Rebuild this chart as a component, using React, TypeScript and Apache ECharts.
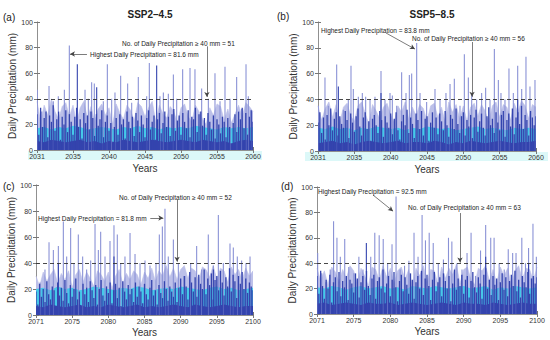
import { useEffect, useRef } from "react";
import * as echarts from "echarts";

const FONT = "'Liberation Sans', Arial, Helvetica, sans-serif";

// ---------- tick labels ----------
const topYearTicks = ["2031", "2035", "2040", "2045", "2050", "2055", "2060"];
const bottomYearTicks = ["2071", "2075", "2080", "2085", "2090", "2095", "2100"];
const panelTitles = ["SSP2\u20134.5", "SSP5\u20138.5"];
const panelLetters = ["(a)", "(b)", "(c)", "(d)"];
const threshold = 40;
const countsAbove40 = [51, 56, 52, 63];
const maxPrecip = [81.6, 83.8, 81.8, 92.5];

// ---------- panel (a) SSP2-4.5, 2031-2060 ----------
// dense dark strokes, 4 samples per year (years from axis start)
const aBase = [
  28, 12, 33, 18, 25, 30, 10, 27, 22, 35, 15, 24, 30, 8, 26, 20, 31, 14, 28, 22,
  12, 26, 33, 18, 24, 9, 29, 21, 27, 16, 30, 25, 11, 28, 19, 24, 31, 10, 22, 27,
  15, 21, 6, 18, 25, 12, 28, 20, 24, 9, 30, 22, 17, 26, 11, 29, 23, 14, 27, 20,
  10, 25, 31, 16, 22, 27, 8, 24, 29, 13, 21, 30, 18, 26, 11, 28, 32, 15, 23, 27,
  12, 29, 22, 17, 31, 10, 26, 24, 33, 14, 28, 30, 19, 25, 12, 29, 22, 16, 27, 9,
  24, 20, 13, 26, 22, 10, 25, 18, 5, 21, 28, 14, 30, 24, 33, 17, 29, 12, 26, 31,
  22,
];
// light envelope, 2 samples per year
const aEnv = [
  38, 22, 35, 27, 40, 30, 24, 34, 37, 26, 35, 21, 33, 38, 25, 34, 22, 32, 36, 27,
  33, 20, 36, 29, 24, 35, 31, 23, 37, 34, 26, 33, 38, 22, 35, 28, 25, 34, 30, 21,
  33, 36, 26, 22, 35, 30, 24, 20, 33, 27, 36, 34, 23, 32, 21, 28, 35, 26, 37, 34, 30,
];
// cyan mid band and dark floor, 1 sample per year
const aMid = [17, 18, 16, 18, 17, 19, 18, 16, 17, 18, 17, 16, 18, 17, 19, 17, 18, 16, 18, 17, 18, 17, 19, 18, 17, 16, 18, 17, 18, 17, 18];
const aFloor = [7, 6, 8, 7, 6, 7, 8, 6, 7, 5, 7, 6, 8, 7, 6, 7, 8, 7, 6, 7, 8, 7, 6, 8, 7, 6, 7, 5, 7, 8, 7];
const aSpikeAt = [0.05, 0.65, 1.67, 2.27, 2.96, 3.8, 4.49, 6.67, 7.13, 7.59, 7.96, 9.21, 9.77, 10.37, 10.83, 11.62, 12.59, 13.15, 14.07, 15.23, 15.6, 17.08, 17.55, 18.24, 18.94, 19.4, 20.23, 21.25, 21.94, 22.87, 23.8, 24.72, 25.42, 26.11, 26.81, 27.73, 28.43, 29.03, 29.35, 29.81];
const aSpikeMm = [47, 30, 50, 38, 42, 47, 81.6, 47, 40, 53, 52, 38, 67, 40, 45, 58, 52, 37, 57, 42, 68, 42, 45, 44, 59, 40, 63, 64, 63, 48, 40, 60, 38, 65, 40, 57, 32, 67, 42, 30];
const aDarkAt = [5.6, 8.29, 16.62];
const aDarkMm = [67, 49, 66];

// ---------- panel (b) SSP5-8.5, 2031-2060 ----------
const bBase = [
  22, 30, 14, 26, 9, 28, 20, 33, 16, 25, 30, 12, 27, 21, 18, 31, 24, 10, 29, 22,
  15, 27, 33, 19, 12, 26, 30, 17, 23, 8, 25, 28, 20, 14, 31, 24, 11, 27, 22, 18,
  29, 13, 25, 30, 16, 9, 23, 28, 20, 32, 14, 26, 21, 10, 29, 24, 17, 31, 12, 25,
  27, 8, 22, 30, 18, 26, 13, 29, 23, 16, 31, 20, 11, 28, 25, 17, 33, 21, 14, 27,
  30, 12, 24, 19, 28, 10, 26, 32, 15, 23, 29, 18, 12, 27, 34, 20, 25, 14, 30, 22,
  16, 28, 31, 11, 24, 29, 19, 33, 13, 26, 30, 21, 35, 17, 28, 24, 12, 31, 26, 20,
  27,
];
const bEnv = [
  35, 24, 33, 38, 26, 36, 22, 34, 37, 27, 23, 35, 38, 29, 21, 36, 31, 25, 34, 37,
  28, 22, 35, 30, 38, 24, 34, 27, 36, 33, 23, 35, 37, 26, 34, 22, 38, 30, 36, 25,
  35, 23, 34, 37, 27, 36, 31, 22, 35, 38, 26, 36, 34, 24, 37, 30, 39, 35, 25, 36, 34,
];
const bMid = [18, 17, 19, 17, 18, 16, 18, 17, 19, 18, 17, 18, 16, 18, 17, 19, 18, 17, 18, 16, 17, 18, 19, 17, 18, 17, 16, 18, 17, 18, 17];
const bFloor = [6, 7, 8, 6, 7, 5, 7, 8, 7, 6, 7, 8, 6, 7, 7, 6, 8, 7, 5, 7, 6, 8, 7, 6, 7, 8, 7, 6, 7, 7, 8];
const bSpikeAt = [0.05, 0.96, 1.42, 2.57, 3.49, 4.17, 4.54, 4.86, 5.55, 6.1, 6.56, 7.16, 7.84, 8.67, 9.22, 9.91, 10.23, 10.83, 11.51, 12.11, 12.57, 12.89, 13.58, 14.04, 14.95, 16.1, 16.79, 17.61, 18.17, 18.76, 19.54, 20.14, 20.69, 21.15, 21.83, 22.52, 23.07, 23.67, 24.27, 24.82, 25.18, 25.73, 26.28, 26.88, 27.48, 28.03, 28.62, 29.17, 29.86];
const bSpikeMm = [35, 57, 35, 67, 32, 40, 66, 48, 42, 45, 42, 40, 42, 62, 40, 45, 43, 35, 61, 45, 59, 60, 83.8, 45, 38, 48, 40, 45, 52, 56, 35, 75, 57, 45, 40, 45, 49, 40, 79, 55, 45, 40, 64, 45, 66, 48, 73, 50, 55];
const bDarkAt = [2.8, 8.67, 27.48];
const bDarkMm = [50, 45, 40];

// ---------- panel (c) SSP2-4.5, 2071-2100 ----------
const cBase = [
  18, 8, 24, 14, 20, 10, 26, 16, 12, 22, 19, 7, 25, 15, 21, 11, 27, 17, 9, 23,
  14, 20, 28, 12, 18, 6, 24, 16, 21, 10, 26, 19, 13, 23, 8, 20, 27, 15, 11, 22,
  17, 25, 9, 19, 24, 13, 21, 7, 26, 18, 12, 23, 16, 20, 10, 25, 14, 22, 18, 9,
  24, 16, 12, 21, 27, 15, 19, 8, 23, 17, 13, 26, 20, 11, 22, 18, 14, 25, 10, 21,
  28, 16, 30, 22, 12, 33, 25, 18, 29, 14, 31, 24, 20, 35, 16, 28, 23, 32, 12, 27,
  30, 19, 34, 25, 15, 29, 22, 36, 18, 31, 26, 13, 30, 24, 33, 20, 28, 17, 25, 22,
  19,
];
const cEnv = [
  30, 22, 33, 26, 31, 35, 24, 32, 27, 34, 21, 31, 35, 25, 33, 28, 22, 34, 31, 26,
  33, 20, 30, 35, 24, 32, 27, 34, 31, 23, 33, 28, 36, 26, 34, 30, 38, 29, 36, 27,
  35, 38, 28, 36, 34, 26, 37, 35, 29, 38, 27, 36, 34, 25, 37, 31, 35, 27, 36, 30, 34,
];
const cMid = [20, 21, 19, 22, 20, 21, 19, 20, 22, 21, 20, 19, 21, 20, 22, 21, 19, 20, 21, 20, 22, 21, 20, 19, 21, 22, 20, 21, 19, 20, 21];
const cFloor = [7, 6, 8, 7, 6, 7, 8, 6, 7, 6, 8, 7, 6, 7, 8, 6, 7, 6, 7, 8, 7, 6, 8, 7, 6, 7, 8, 7, 6, 7, 7];
const cSpikeAt = [0.55, 1.24, 1.8, 2.4, 3.09, 3.78, 4.24, 4.79, 5.25, 5.85, 6.45, 7.0, 7.56, 8.16, 8.62, 8.94, 9.54, 10.23, 10.78, 11.24, 11.71, 12.3, 13.0, 13.69, 14.38, 15.07, 15.76, 16.59, 17.05, 17.47, 17.83, 18.29, 18.99, 19.68, 20.6, 21.38, 22.21, 22.9, 23.82, 24.52, 25.21, 25.9, 26.82, 27.28, 27.83, 28.43, 29.03, 29.59];
const cSpikeMm = [25, 35, 56, 50, 53, 72, 45, 67, 40, 62, 45, 35, 42, 70, 50, 64, 45, 57, 69, 62, 40, 45, 63, 47, 40, 42, 38, 40, 62, 68, 81.8, 45, 58, 40, 30, 40, 53, 35, 62, 38, 77, 40, 55, 52, 45, 42, 40, 45];
const cDarkAt = [3.09, 10.78, 24.52];
const cDarkMm = [40, 45, 35];

// ---------- panel (d) SSP5-8.5, 2071-2100 ----------
const dBase = [
  30, 16, 34, 22, 12, 27, 20, 31, 9, 25, 29, 18, 33, 14, 26, 21, 30, 11, 27, 24,
  17, 32, 28, 13, 25, 30, 19, 34, 22, 15, 28, 31, 12, 26, 29, 20, 35, 17, 24, 30,
  14, 27, 33, 21, 10, 26, 31, 18, 29, 23, 16, 32, 27, 12, 25, 30, 20, 34, 15, 28,
  31, 22, 11, 27, 33, 18, 25, 29, 14, 32, 26, 20, 30, 10, 24, 35, 19, 28, 22, 31,
  16, 27, 30, 13, 26, 33, 21, 17, 29, 24, 12, 31, 36, 20, 27, 15, 30, 23, 28, 11,
  25, 32, 19, 29, 14, 26, 31, 22, 34, 18, 27, 13, 30, 25, 21, 33, 16, 28, 30, 24,
  29,
];
const dEnv = [
  36, 26, 34, 23, 37, 33, 25, 35, 28, 38, 34, 24, 36, 30, 22, 37, 35, 26, 38, 29,
  36, 24, 34, 37, 27, 35, 22, 36, 30, 38, 25, 35, 34, 23, 37, 28, 36, 31, 39, 24,
  35, 37, 27, 23, 36, 34, 38, 26, 35, 24, 37, 30, 36, 22, 34, 38, 27, 36, 35, 26, 37,
];
const dMid = [21, 20, 22, 21, 19, 21, 22, 20, 21, 22, 20, 21, 19, 22, 21, 20, 22, 21, 20, 21, 22, 20, 21, 22, 19, 21, 20, 22, 21, 20, 21];
const dFloor = [8, 9, 7, 8, 9, 8, 7, 9, 8, 8, 9, 7, 8, 9, 8, 7, 8, 9, 8, 7, 9, 8, 8, 7, 9, 8, 7, 8, 9, 8, 8];
const dSpikeAt = [0.09, 0.65, 1.2, 1.8, 2.26, 2.72, 3.18, 3.78, 4.33, 5.02, 5.71, 6.27, 7.33, 7.88, 8.48, 9.03, 9.63, 10.23, 10.78, 11.34, 11.94, 12.53, 13.23, 13.78, 14.33, 14.79, 15.3, 15.85, 16.54, 17.24, 17.93, 18.39, 19.08, 19.77, 20.46, 21.01, 21.61, 22.3, 23.0, 23.69, 24.15, 24.84, 25.53, 26.08, 26.68, 27.14, 27.93, 28.43, 28.85, 29.45, 29.91];
const dSpikeMm = [48, 32, 25, 35, 73, 60, 45, 59, 37, 32, 45, 35, 45, 64, 62, 59, 40, 55, 92.5, 35, 38, 42, 64, 45, 78, 58, 64, 56, 40, 43, 60, 57, 40, 35, 48, 64, 30, 50, 70, 60, 60, 40, 35, 51, 48, 48, 60, 40, 52, 71, 45];
const dDarkAt = [6.73, 23.0, 28.85];
const dDarkMm = [56, 45, 40];

// ---------- layout / annotation geometry ----------
const grids = [
  { left: 37, top: 22, width: 216, height: 128 },
  { left: 318, top: 22, width: 218, height: 129 },
  { left: 36, top: 185, width: 217, height: 130 },
  { left: 317, top: 187, width: 220, height: 127 },
];

type Panel = {
  base: number[]; env: number[]; mid: number[]; floor: number[];
  spikeAt: number[]; spikeMm: number[]; darkAt: number[]; darkMm: number[];
  ticks: string[];
  maxArrow: number[][]; countArrow: number[][];
  maxText: number[]; countText: number[];
  letter: number[]; yName: number; xNameGap: number;
};

const panels: Panel[] = [
  {
    base: aBase, env: aEnv, mid: aMid, floor: aFloor, spikeAt: aSpikeAt, spikeMm: aSpikeMm, darkAt: aDarkAt, darkMm: aDarkMm,
    ticks: topYearTicks,
    maxArrow: [[6.94, 75], [4.58, 75]], countArrow: [[23.6, 81], [23.6, 41.5]],
    maxText: [90, 54], countText: [122, 43], letter: [3, 17], yName: 17, xNameGap: 13,
  },
  {
    base: bBase, env: bEnv, mid: bMid, floor: bFloor, spikeAt: bSpikeAt, spikeMm: bSpikeMm, darkAt: bDarkAt, darkMm: bDarkMm,
    ticks: topYearTicks,
    maxArrow: [[9.35, 91.5], [13.34, 79]], countArrow: [[21.2, 84.5], [21.2, 42]],
    maxText: [321, 30], countText: [412, 38], letter: [277, 16], yName: 17, xNameGap: 13,
  },
  {
    base: cBase, env: cEnv, mid: cMid, floor: cFloor, spikeAt: cSpikeAt, spikeMm: cSpikeMm, darkAt: cDarkAt, darkMm: cDarkMm,
    ticks: bottomYearTicks,
    maxArrow: [[15.8, 74.6], [17.6, 74.6]], countArrow: [[19.5, 88.5], [19.5, 41]],
    maxText: [38, 218], countText: [119, 197], letter: [3, 186], yName: 17, xNameGap: 12,
  },
  {
    base: dBase, env: dEnv, mid: dMid, floor: dFloor, spikeAt: dSpikeAt, spikeMm: dSpikeMm, darkAt: dDarkAt, darkMm: dDarkMm,
    ticks: bottomYearTicks,
    maxArrow: [[7.64, 93.7], [10.37, 81]], countArrow: [[19.5, 79.5], [19.5, 40.5]],
    maxText: [318, 191], countText: [408, 207], letter: [281, 186], yName: 18, xNameGap: 12,
  },
];

const DARK = "#3444ae";
const LAV = "#bcc0e9";
const LAV_BAR = "#8a92d6";
const CYAN = "#45c9e9";

// thin vertical stroke from 0 to value, positioned through the axes' scales
function strokeSeries(i: number, name: string, data: number[][], color: string, w: number, z: number, extra: any = {}) {
  return {
    type: "custom", name, xAxisIndex: i, yAxisIndex: i, silent: true, clip: true, z,
    encode: { x: 0, y: 1 },
    data,
    renderItem: (_params: any, api: any) => {
      const x = api.value(0);
      const v = api.value(1);
      const top = api.coord([x, v]);
      const bot = api.coord([x, 0]);
      return {
        type: "rect",
        shape: { x: top[0] - w / 2, y: top[1], width: w, height: bot[1] - top[1] },
        style: { fill: color },
      };
    },
    ...extra,
  };
}

function buildOption() {
  const xAxis: any[] = [];
  const yAxis: any[] = [];
  const series: any[] = [];
  const graphic: any[] = [];

  // cyan artefact strips behind the upper panels' tick labels
  graphic.push({ type: "rect", z: -10, shape: { x: 28, y: 151, width: 234, height: 9 }, style: { fill: "#dcf8f8" } });
  graphic.push({ type: "rect", z: -10, shape: { x: 305, y: 152, width: 243, height: 9 }, style: { fill: "#dcf8f8" } });

  panels.forEach((p, i) => {
    xAxis.push({
      type: "value", gridIndex: i, min: 0, max: 30, interval: 5,
      axisLine: { show: true, lineStyle: { color: "#8c8c8c", width: 0.8 } },
      axisTick: { show: true, inside: true, length: 3, lineStyle: { color: "#777" } },
      splitLine: { show: false },
      axisLabel: {
        fontSize: 7, color: "#333", fontFamily: FONT, margin: 3,
        formatter: (v: number) => p.ticks[Math.round(v / 5)] ?? "",
      },
      name: "Years", nameLocation: "middle", nameGap: p.xNameGap,
      nameTextStyle: { fontSize: 10, color: "#333", fontFamily: FONT },
    });
    yAxis.push({
      type: "value", gridIndex: i, min: 0, max: 100, interval: 20,
      axisLine: { show: true, lineStyle: { color: "#8c8c8c", width: 0.8 } },
      axisTick: { show: true, inside: true, length: 3, lineStyle: { color: "#777" } },
      splitLine: { show: false },
      axisLabel: { fontSize: 7, color: "#333", fontFamily: FONT, margin: 4 },
      name: "Daily Precipitation (mm)", nameLocation: "middle", nameGap: p.yName,
      nameTextStyle: { fontSize: 10, color: "#333", fontFamily: FONT },
    });
  });
  // mirrored box axes (top / right) with inside ticks
  panels.forEach((_p, i) => {
    xAxis.push({
      type: "value", gridIndex: i, min: 0, max: 30, interval: 5, position: "top",
      axisLine: { show: true, lineStyle: { color: "#8c8c8c", width: 0.8 } },
      axisTick: { show: true, inside: true, length: 3, lineStyle: { color: "#777" } },
      axisLabel: { show: false }, splitLine: { show: false },
    });
    yAxis.push({
      type: "value", gridIndex: i, min: 0, max: 100, interval: 20, position: "right",
      axisLine: { show: true, lineStyle: { color: "#8c8c8c", width: 0.8 } },
      axisTick: { show: true, inside: true, length: 3, lineStyle: { color: "#777" } },
      axisLabel: { show: false }, splitLine: { show: false },
    });
  });

  panels.forEach((p, i) => {
    const common = { xAxisIndex: i, yAxisIndex: i, silent: true };
    series.push({
      ...common, type: "line", name: `env${i}`, symbol: "none", z: 1,
      data: p.env.map((v, k) => [k / 2, v]),
      lineStyle: { width: 0.6, color: LAV }, areaStyle: { color: LAV, opacity: 1 },
    });
    series.push({
      ...common, type: "line", name: `mid${i}`, symbol: "none", z: 1,
      data: p.mid.map((v, k) => [k, v]),
      lineStyle: { width: 0 }, areaStyle: { color: CYAN, opacity: 1 },
    });
    series.push({
      ...common, type: "line", name: `floor${i}`, symbol: "none", z: 1,
      data: p.floor.map((v, k) => [k, v]),
      lineStyle: { width: 0 }, areaStyle: { color: DARK, opacity: 1 },
    });
    series.push(strokeSeries(i, `spikes${i}`, p.spikeAt.map((t, k) => [t, p.spikeMm[k]]), LAV_BAR, 1.1, 2));
    series.push(strokeSeries(i, `base${i}`, p.base.map((v, k) => [k / 4, v]), DARK, 1.3, 2));
    series.push(strokeSeries(i, `dark${i}`, p.darkAt.map((t, k) => [t, p.darkMm[k]]), DARK, 1.1, 3, {
      markLine: {
        silent: true, symbol: ["none", "none"], label: { show: false }, animation: false,
        data: [
          { yAxis: threshold, lineStyle: { type: [4, 3], color: "#333", width: 0.9 } },
          [
            { coord: p.maxArrow[0], symbol: "none", lineStyle: { type: "solid", color: "#444", width: 0.7 } },
            { coord: p.maxArrow[1], symbol: "arrow", symbolSize: [4, 5] },
          ],
          [
            { coord: p.countArrow[0], symbol: "none", lineStyle: { type: "solid", color: "#444", width: 0.7 } },
            { coord: p.countArrow[1], symbol: "arrow", symbolSize: [4, 5] },
          ],
        ],
      },
    }));

    graphic.push({
      type: "text", x: p.maxText[0], y: p.maxText[1], z: 100,
      style: { text: `Highest Daily Precipitation = ${maxPrecip[i]} mm`, fontSize: 6.5, fill: "#222", fontFamily: FONT, verticalAlign: "middle" },
    });
    graphic.push({
      type: "text", x: p.countText[0], y: p.countText[1], z: 100,
      style: { text: `No. of Daily Precipitation \u2265 ${threshold} mm = ${countsAbove40[i]}`, fontSize: 6.5, fill: "#222", fontFamily: FONT, verticalAlign: "middle" },
    });
    graphic.push({
      type: "text", x: p.letter[0], y: p.letter[1], z: 100,
      style: { text: panelLetters[i], fontSize: 10, fill: "#222", fontFamily: FONT, verticalAlign: "middle" },
    });
  });

  return {
    animation: false,
    backgroundColor: "#ffffff",
    title: [
      { text: panelTitles[0], left: 145, top: 4, textAlign: "center", textStyle: { fontSize: 10, fontWeight: "bold", color: "#222", fontFamily: FONT } },
      { text: panelTitles[1], left: 427, top: 4, textAlign: "center", textStyle: { fontSize: 10, fontWeight: "bold", color: "#222", fontFamily: FONT } },
    ],
    grid: grids.map((g) => ({ ...g, show: false, containLabel: false })),
    xAxis,
    yAxis,
    series,
    graphic,
  };
}

export default function App() {
  const ref = useRef<HTMLDivElement>(null);
  useEffect(() => {
    if (!ref.current) return;
    const chart = echarts.init(ref.current, null, { renderer: "svg" });
    chart.setOption(buildOption() as any);
    return () => chart.dispose();
  }, []);
  return <div ref={ref} style={{ position: "fixed", left: 0, top: 0, width: 550, height: 340 }} />;
}
